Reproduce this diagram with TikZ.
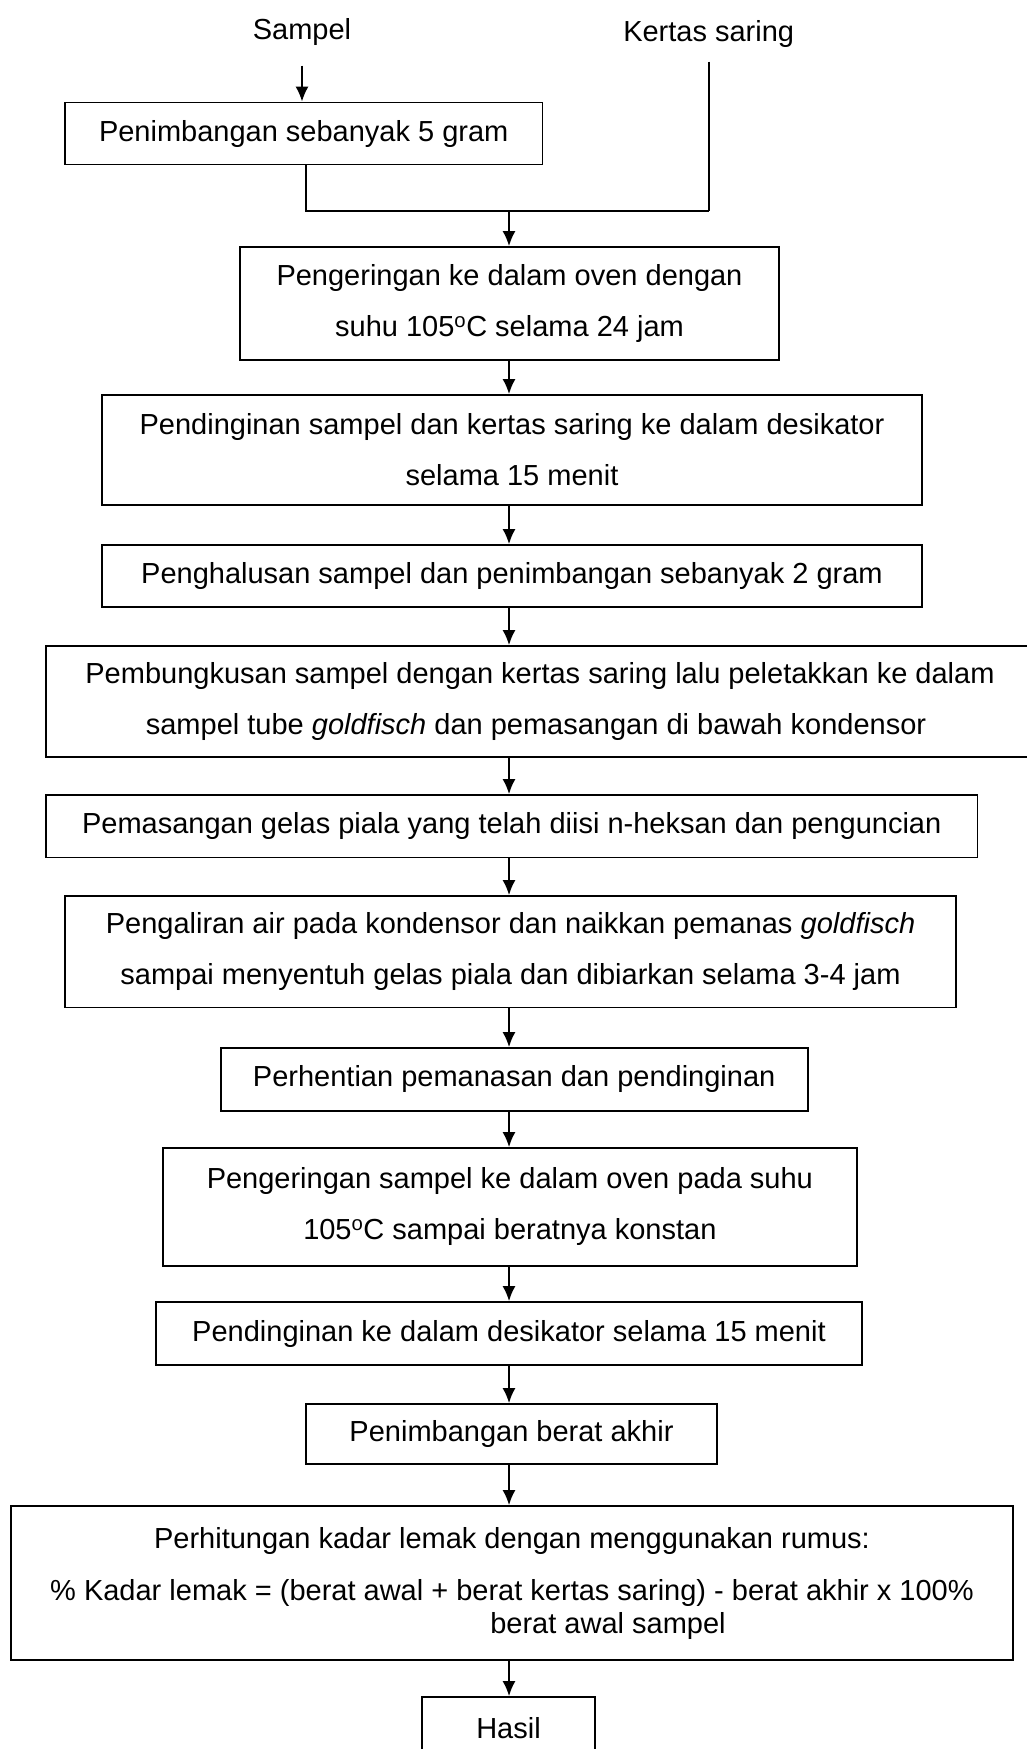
\documentclass[tikz,border=0pt]{standalone}
\usepackage{fontspec}
\setmainfont{Liberation Sans}
\usetikzlibrary{arrows.meta}
\begin{document}
\begin{tikzpicture}[x=1pt,y=-1pt,
  box/.style={draw, line width=1.8pt, inner sep=0pt, align=center, font=\fontsize{29}{51}\selectfont},
  lbl/.style={inner sep=0pt, font=\fontsize{29}{51}\selectfont},
  conn/.style={line width=1.7pt},
  arr/.style={line width=1.7pt, -{Latex[length=15pt,width=13pt]}}]
\useasboundingbox (0,0) rectangle (1027,1749);

\node[lbl] (sampel) at (302,32) {Sampel};
\node[lbl] (kertas) at (708.7,34) {Kertas saring};

\node[box, minimum width=477.5pt, minimum height=62pt] (b1) at (303.75,133.5) {Penimbangan sebanyak 5 gram};
\node[box, minimum width=539pt, minimum height=113pt] (b2) at (509.5,303.5) {Pengeringan ke dalam oven dengan\\suhu 105\textsuperscript{o}C selama 24 jam};
\node[box, minimum width=820pt, minimum height=110pt] (b3) at (512,450) {Pendinginan sampel dan kertas saring ke dalam desikator\\selama 15 menit};
\node[box, minimum width=820pt, minimum height=62pt] (b4) at (512,576) {Penghalusan sampel dan penimbangan sebanyak 2 gram};
\node[box, minimum width=988pt, minimum height=111pt] (b5) at (540,701.5) {Pembungkusan sampel dengan kertas saring lalu peletakkan ke dalam\\sampel tube \textit{goldfisch} dan pemasangan di bawah kondensor\hspace*{8pt}};
\node[box, minimum width=931.5pt, minimum height=62.5pt] (b6) at (511.75,826.25) {Pemasangan gelas piala yang telah diisi n-heksan dan penguncian};
\node[box, minimum width=891pt, minimum height=111.5pt] (b7) at (510.5,951.75) {Pengaliran air pada kondensor dan naikkan pemanas \textit{goldfisch}\\sampai menyentuh gelas piala dan dibiarkan selama 3-4 jam};
\node[box, minimum width=587pt, minimum height=62.7pt] (b8) at (514.2,1079.35) {Perhentian pemanasan dan pendinginan};
\node[box, minimum width=694.3pt, minimum height=117.7pt] (b9) at (509.85,1206.85) {Pengeringan sampel ke dalam oven pada suhu\\105\textsuperscript{o}C sampai beratnya konstan};
\node[box, minimum width=706pt, minimum height=63pt] (b10) at (509,1333.5) {Pendinginan ke dalam desikator selama 15 menit};
\node[box, minimum width=411pt, minimum height=60pt] (b11) at (511.5,1434) {Penimbangan berat akhir};
\node[box, minimum width=1002pt, minimum height=154pt] (b12) at (512,1583) {Perhitungan kadar lemak dengan menggunakan rumus:\\[1pt]\% Kadar lemak = (berat awal + berat kertas saring) - berat akhir x 100\%\\[-18pt]\hspace*{192pt}berat awal sampel};
\node[box, minimum width=173pt, minimum height=63pt] (b13) at (508.5,1728.5) {Hasil};

\coordinate (ax) at (509,0);
\coordinate (j1) at (306,211);
\coordinate (j2) at (708.7,211);
\coordinate (jm) at (509,211);

\draw[arr] ([yshift=-20pt]sampel.south) -- (sampel.south |- b1.north);
\draw[conn] (b1.south -| j1) -- (j1) -- (j2);
\draw[conn] ([yshift=-14pt]kertas.south) -- (j2);
\draw[arr] (jm) -- (b2.north -| jm);
\draw[arr] (b2.south -| ax) -- (b3.north -| ax);
\draw[arr] (b3.south -| ax) -- (b4.north -| ax);
\draw[arr] (b4.south -| ax) -- (b5.north -| ax);
\draw[arr] (b5.south -| ax) -- (b6.north -| ax);
\draw[arr] (b6.south -| ax) -- (b7.north -| ax);
\draw[arr] (b7.south -| ax) -- (b8.north -| ax);
\draw[arr] (b8.south -| ax) -- (b9.north -| ax);
\draw[arr] (b9.south -| ax) -- (b10.north -| ax);
\draw[arr] (b10.south -| ax) -- (b11.north -| ax);
\draw[arr] (b11.south -| ax) -- (b12.north -| ax);
\draw[arr] (b12.south -| ax) -- (b13.north -| ax);
\end{tikzpicture}
\end{document}
